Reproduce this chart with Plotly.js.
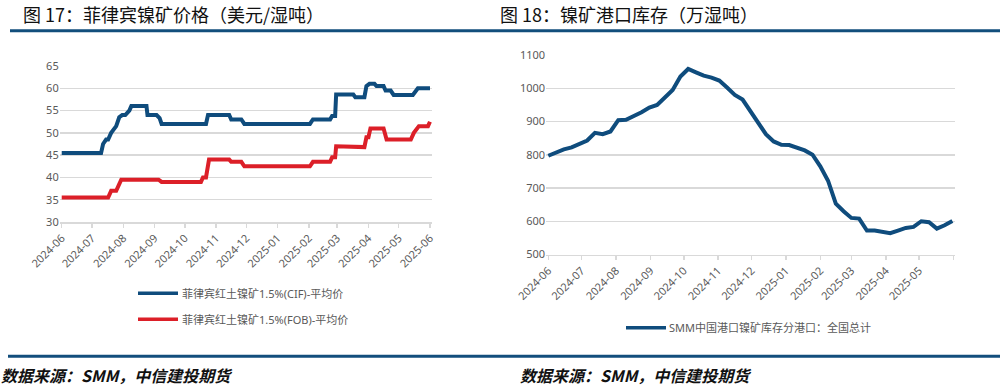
<!DOCTYPE html>
<html>
<head>
<meta charset="utf-8">
<script src="https://cdn.plot.ly/plotly-3.0.1.min.js"></script>
<style>
html,body{margin:0;padding:0;background:#fff;}
#chart{width:1000px;height:390px;}
</style>
</head>
<body>
<div id="chart"></div>
<script>
// ---------- Data: Figure 17 (Philippine nickel ore prices, USD/wet ton) ----------
const cifDates = ['2024-06-01','2024-07-10','2024-07-12','2024-07-15','2024-07-17','2024-07-20','2024-07-25','2024-07-28','2024-07-31','2024-08-03','2024-08-07','2024-08-09','2024-08-24','2024-08-25','2024-09-03','2024-09-06','2024-09-08','2024-10-22','2024-10-24','2024-11-14','2024-11-16','2024-11-26','2024-11-29','2025-02-02','2025-02-05','2025-02-22','2025-02-24','2025-02-27','2025-02-28','2025-03-17','2025-03-19','2025-03-28','2025-03-30','2025-04-02','2025-04-07','2025-04-09','2025-04-16','2025-04-18','2025-04-23','2025-04-26','2025-05-15','2025-05-17','2025-05-20','2025-06-01'];
const cifValues = [45.5,45.5,47.5,48.5,48.5,50,51.5,53.5,54,54,55,56,56,54,54,53.3,52,52,54,54,53,53,52,52,53,53,53.8,53.8,58.6,58.6,58,58,60.5,61,61,60.5,60.5,59.5,59.5,58.5,58.5,59,60,60];

const fobDates = ['2024-06-01','2024-07-17','2024-07-20','2024-07-25','2024-07-30','2024-09-05','2024-09-08','2024-10-17','2024-10-19','2024-10-22','2024-10-25','2024-11-14','2024-11-16','2024-11-26','2024-11-29','2025-02-02','2025-02-05','2025-02-22','2025-02-24','2025-02-27','2025-02-28','2025-03-17','2025-03-19','2025-03-28','2025-03-30','2025-04-01','2025-04-03','2025-04-16','2025-04-19','2025-05-13','2025-05-16','2025-05-21','2025-05-30','2025-06-01'];
const fobValues = [35.5,35.5,37,37,39.5,39.5,39,39,40,40,44,44,43.5,43.5,42.5,42.5,43.5,43.5,44.5,44.5,47,47,46.8,46.8,49,49,51,51,48.5,48.5,50,51.5,51.5,52.5];

const priceTickVals = ['2024-06-01','2024-07-01','2024-08-01','2024-09-01','2024-10-01','2024-11-01','2024-12-01','2025-01-01','2025-02-01','2025-03-01','2025-04-01','2025-05-01','2025-06-01'];
const priceTickText = ['2024-06','2024-07','2024-08','2024-09','2024-10','2024-11','2024-12','2025-01','2025-02','2025-03','2025-04','2025-05','2025-06'];

// ---------- Data: Figure 18 (nickel ore port inventory, 10k wet tons) ----------
const invDates = ['2024-06-01','2024-06-08','2024-06-15','2024-06-22','2024-06-29','2024-07-06','2024-07-13','2024-07-20','2024-07-27','2024-08-03','2024-08-10','2024-08-17','2024-08-24','2024-08-31','2024-09-07','2024-09-14','2024-09-21','2024-09-28','2024-10-05','2024-10-12','2024-10-19','2024-10-26','2024-11-02','2024-11-09','2024-11-16','2024-11-23','2024-11-30','2024-12-07','2024-12-14','2024-12-21','2024-12-28','2025-01-04','2025-01-11','2025-01-18','2025-01-25','2025-02-01','2025-02-08','2025-02-15','2025-02-22','2025-03-01','2025-03-08','2025-03-15','2025-03-22','2025-03-29','2025-04-05','2025-04-12','2025-04-19','2025-04-26','2025-05-03','2025-05-10','2025-05-17','2025-05-24','2025-05-31'];
const invValues = [797,807,816,822,834,843,866,862,870,904,905,916,928,942,950,972,995,1035,1058,1048,1038,1032,1023,1002,980,966,933,900,862,840,830,829,821,813,800,765,722,653,630,610,608,572,572,567,564,572,580,583,600,597,578,588,601];

const invTickVals = ['2024-06-01','2024-07-01','2024-08-01','2024-09-01','2024-10-01','2024-11-01','2024-12-01','2025-01-01','2025-02-01','2025-03-01','2025-04-01','2025-05-01','2025-06-01'];
const invTickText = ['2024-06','2024-07','2024-08','2024-09','2024-10','2024-11','2024-12','2025-01','2025-02','2025-03','2025-04','2025-05',''];

const cifName = '菲律宾红土镍矿1.5%(CIF)-平均价';
const fobName = '菲律宾红土镍矿1.5%(FOB)-平均价';
const invName = 'SMM中国港口镍矿库存分港口：全国总计';

// ---------- styling ----------
const W = 1000, H = 390;
const px = x => x / W;
const py = y => 1 - y / H;
const BLUE = '#0f4c7d';
const RED = '#dc1f28';
const DARK = '#124e7c';
const GRID = '#d9d9d9';
const TICKC = '#595959';
const FONT = '"Noto Sans", "Noto Sans CJK SC", sans-serif';
const CJK = '"Noto Sans CJK SC", "Noto Sans", sans-serif';

const traces = [
  {x: cifDates, y: cifValues, name: cifName, type: 'scatter', mode: 'lines',
   line: {color: BLUE, width: 4}, xaxis: 'x', yaxis: 'y', showlegend: false},
  {x: fobDates, y: fobValues, name: fobName, type: 'scatter', mode: 'lines',
   line: {color: RED, width: 4}, xaxis: 'x', yaxis: 'y', showlegend: false},
  {x: invDates, y: invValues, name: invName, type: 'scatter', mode: 'lines',
   line: {color: BLUE, width: 4}, xaxis: 'x2', yaxis: 'y2', showlegend: false}
];

const xCommon = {
  type: 'date', showgrid: false, zeroline: false,
  showline: true, linecolor: GRID, linewidth: 1.5,
  ticks: 'outside', ticklen: 4, tickcolor: GRID, tickwidth: 1.5,
  tickangle: -45, tickfont: {family: FONT, size: 11, color: TICKC},
  tickmode: 'array', fixedrange: true
};
const yCommon = {
  showgrid: true, gridcolor: GRID, gridwidth: 1.5, zeroline: false,
  showline: false, ticks: '', tickfont: {family: FONT, size: 11, color: TICKC},
  fixedrange: true
};

const layout = {
  width: W, height: H,
  margin: {l: 0, r: 0, t: 0, b: 0},
  paper_bgcolor: '#fff', plot_bgcolor: '#fff',
  showlegend: false,
  xaxis: Object.assign({}, xCommon, {
    domain: [px(59.7), px(432)], range: ['2024-05-30', '2025-06-03'],
    tickvals: priceTickVals, ticktext: priceTickText, anchor: 'y'
  }),
  yaxis: Object.assign({}, yCommon, {
    domain: [py(222), py(66)], range: [30, 65], dtick: 5, tick0: 30, anchor: 'x'
  }),
  xaxis2: Object.assign({}, xCommon, {
    domain: [px(546.1), px(954.6)], range: ['2024-05-30', '2025-06-02'],
    tickvals: invTickVals, ticktext: invTickText, anchor: 'y2'
  }),
  yaxis2: Object.assign({}, yCommon, {
    domain: [py(254.5), py(55)], range: [500, 1100], dtick: 100, tick0: 500, anchor: 'x2'
  }),
  shapes: [
    // header rule
    {type: 'line', xref: 'paper', yref: 'paper', x0: px(10), x1: px(1000), y0: py(30.8), y1: py(30.8),
     line: {color: DARK, width: 3}},
    // footer rule
    {type: 'line', xref: 'paper', yref: 'paper', x0: px(8), x1: px(1000), y0: py(356.3), y1: py(356.3),
     line: {color: DARK, width: 3}},
    // legend symbols
    {type: 'line', xref: 'paper', yref: 'paper', x0: px(138), x1: px(178), y0: py(293.3), y1: py(293.3),
     line: {color: BLUE, width: 3.5}},
    {type: 'line', xref: 'paper', yref: 'paper', x0: px(138), x1: px(178), y0: py(319.3), y1: py(319.3),
     line: {color: RED, width: 3.5}},
    {type: 'line', xref: 'paper', yref: 'paper', x0: px(626), x1: px(666), y0: py(327.7), y1: py(327.7),
     line: {color: BLUE, width: 3.5}}
  ],
  annotations: [
    {xref: 'paper', yref: 'paper', x: px(21), y: py(14), xanchor: 'left', yanchor: 'middle', showarrow: false,
     text: '图 17：菲律宾镍矿价格（美元/湿吨）', font: {family: CJK, size: 18, color: '#111'}},
    {xref: 'paper', yref: 'paper', x: px(498), y: py(14), xanchor: 'left', yanchor: 'middle', showarrow: false,
     text: '图 18：镍矿港口库存（万湿吨）', font: {family: CJK, size: 18, color: '#111'}},
    {xref: 'paper', yref: 'paper', x: px(-1), y: py(375), xanchor: 'left', yanchor: 'middle', showarrow: false,
     text: '<b><i>数据来源：SMM，中信建投期货</i></b>', font: {family: CJK, size: 16, color: '#111'}},
    {xref: 'paper', yref: 'paper', x: px(518), y: py(375), xanchor: 'left', yanchor: 'middle', showarrow: false,
     text: '<b><i>数据来源：SMM，中信建投期货</i></b>', font: {family: CJK, size: 16, color: '#111'}},
    {xref: 'paper', yref: 'paper', x: px(180), y: py(293.3), xanchor: 'left', yanchor: 'middle', showarrow: false,
     text: cifName, font: {family: FONT, size: 11, color: TICKC}},
    {xref: 'paper', yref: 'paper', x: px(180), y: py(319.3), xanchor: 'left', yanchor: 'middle', showarrow: false,
     text: fobName, font: {family: FONT, size: 11, color: TICKC}},
    {xref: 'paper', yref: 'paper', x: px(667), y: py(327.7), xanchor: 'left', yanchor: 'middle', showarrow: false,
     text: invName, font: {family: FONT, size: 11, color: TICKC}}
  ]
};

Plotly.newPlot('chart', traces, layout, {displayModeBar: false, staticPlot: true});
</script>
</body>
</html>
